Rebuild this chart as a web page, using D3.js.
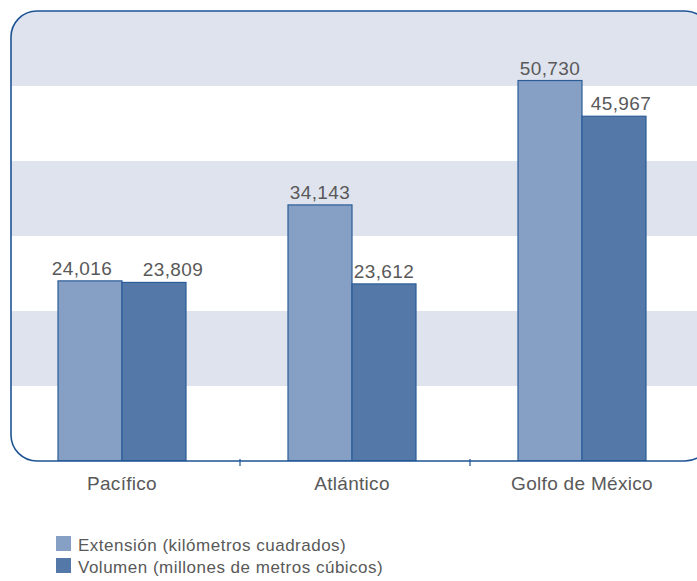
<!DOCTYPE html>
<html>
<head>
  <meta charset="utf-8">
  <script src="https://d3js.org/d3.v7.min.js"></script>
  <style>
    body { margin: 0; background: #fff; }
    svg { display: block; font-family: "Liberation Sans", Arial, Helvetica, sans-serif; }
  </style>
</head>
<body>
<script>
  // data
  var categories = ["Pacífico", "Atlántico", "Golfo de México"];
  var seriesNames = ["Extensión (kilómetros cuadrados)", "Volumen (millones de metros cúbicos)"];
  var extension = [24016, 34143, 50730];
  var volumen = [23809, 23612, 45967];
  var gridTicks = [0, 10000, 20000, 30000, 40000, 50000, 60000];

  var colors = ["#869fc4", "#5479a9"];
  var values = [extension, volumen];

  var width = 697, height = 581;
  var svg = d3.select("body").append("svg")
    .attr("width", width)
    .attr("height", height);

  var y = d3.scaleLinear().domain([0, 60000]).range([461, 11]);
  var x0 = d3.scaleBand().domain(categories).range([7, 697]);
  var x1 = d3.scaleBand().domain([0, 1]).range([0, 128]);
  var groupOff = (x0.bandwidth() - 128) / 2;

  // clip for the rounded plot frame
  svg.append("clipPath").attr("id", "frame")
    .append("rect")
      .attr("x", 11).attr("y", y(60000))
      .attr("width", 700).attr("height", y(0) - y(60000))
      .attr("rx", 26).attr("ry", 26);

  var plot = svg.append("g").attr("clip-path", "url(#frame)");

  // alternating bands, shaded every other 10,000
  var bands = d3.range(gridTicks.length - 1);
  plot.selectAll("rect.band")
    .data(bands)
    .enter().append("rect")
      .attr("class", "band")
      .attr("x", 0)
      .attr("width", width + 20)
      .attr("y", function (i) { return y(gridTicks[i + 1]); })
      .attr("height", function (i) { return y(gridTicks[i]) - y(gridTicks[i + 1]); })
      .style("fill", function (i) { return i % 2 === 1 ? "#dfe3ee" : "#ffffff"; });

  // bars
  var barData = [];
  categories.forEach(function (c, ci) {
    values.forEach(function (arr, si) {
      barData.push({cat: c, s: si, v: arr[ci]});
    });
  });

  plot.selectAll("rect.bar")
    .data(barData)
    .enter().append("rect")
      .attr("class", "bar")
      .attr("x", function (d) { return x0(d.cat) + groupOff + x1(d.s); })
      .attr("width", x1.bandwidth())
      .attr("y", function (d) { return y(d.v); })
      .attr("height", function (d) { return y(0) - y(d.v); })
      .style("fill", function (d) { return colors[d.s]; })
      .style("stroke", "#2b5d98")
      .style("stroke-width", 1.2);

  // frame outline
  svg.append("rect")
    .attr("x", 11).attr("y", y(60000))
    .attr("width", 700).attr("height", y(0) - y(60000))
    .attr("rx", 26).attr("ry", 26)
    .style("fill", "none")
    .style("stroke", "#1d5494")
    .style("stroke-width", 1.6);

  // ticks between categories
  svg.selectAll("line.tick")
    .data(categories.slice(1))
    .enter().append("line")
      .attr("x1", function (c) { return x0(c) + 3; })
      .attr("x2", function (c) { return x0(c) + 3; })
      .attr("y1", y(0) - 2)
      .attr("y2", y(0) + 5)
      .style("stroke", "#1d5494")
      .style("stroke-width", 1.2);

  // value labels (Pacífico labels pushed apart a little, as in the original)
  var nudge = {"0-0": -8, "0-1": 19, "2-1": 7};
  svg.selectAll("text.val")
    .data(barData)
    .enter().append("text")
      .attr("class", "val")
      .attr("x", function (d) {
        var k = categories.indexOf(d.cat) + "-" + d.s;
        return x0(d.cat) + groupOff + x1(d.s) + x1.bandwidth() / 2 + (nudge[k] || 0);
      })
      .attr("y", function (d) { return y(d.v) - 6; })
      .attr("text-anchor", "middle")
      .style("font-size", "19px")
      .style("letter-spacing", "0.4px")
      .style("fill", "#595959")
      .text(function (d) { return d3.format(",")(d.v); });

  // category labels
  svg.selectAll("text.cat")
    .data(categories)
    .enter().append("text")
      .attr("class", "cat")
      .attr("x", function (c) { return x0(c) + x0.bandwidth() / 2; })
      .attr("y", 490)
      .attr("text-anchor", "middle")
      .style("font-size", "19px")
      .style("letter-spacing", "0.3px")
      .style("fill", "#595959")
      .text(function (c) { return c; });

  // legend
  var legend = svg.selectAll("g.leg")
    .data(seriesNames)
    .enter().append("g")
      .attr("class", "leg")
      .attr("transform", function (d, i) { return "translate(56," + (536 + i * 22) + ")"; });

  legend.append("rect")
    .attr("width", 15).attr("height", 15)
    .style("fill", function (d, i) { return colors[i]; });

  legend.append("text")
    .attr("x", 22)
    .attr("y", 14.5)
    .style("font-size", "17px")
    .style("letter-spacing", "0.5px")
    .style("fill", "#595959")
    .text(function (d) { return d; });
</script>
</body>
</html>
